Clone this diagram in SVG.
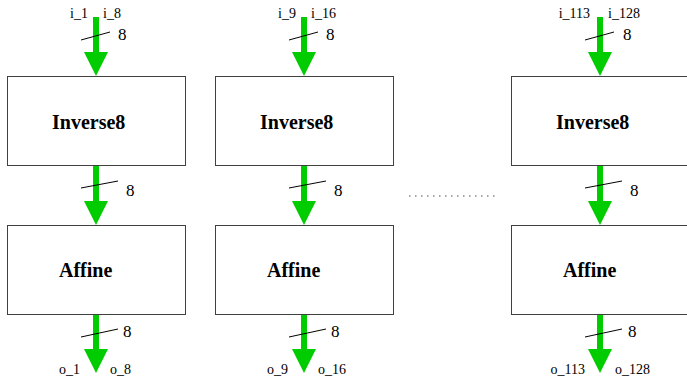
<svg xmlns="http://www.w3.org/2000/svg" width="687" height="382" viewBox="0 0 687 382">
<style>
.box{fill:#fff;stroke:#404040;stroke-width:1}
.title{font-family:"Liberation Serif",serif;font-weight:bold;font-size:20px;fill:#000}
.lbl{font-family:"Liberation Serif",serif;font-size:14px;fill:#000}
.w{font-family:"Liberation Serif",serif;font-size:17px;fill:#000}
.arr{fill:#00cc00;stroke:none}
.sl{stroke:#000;stroke-width:1;fill:none}
.dots{stroke:#888;stroke-width:1.5;stroke-dasharray:1.5 4.5;fill:none}
</style>
<defs>
<path id="a1" class="arr" d="M-3,17 H3 V52 H12 L0,76 L-12,52 H-3 Z"/>
<path id="a2" class="arr" d="M-3,166 H3 V201 H12 L0,225 L-12,201 H-3 Z"/>
<path id="a3" class="arr" d="M-3,315 H3 V349 H12 L0,373 L-12,349 H-3 Z"/>
</defs>
<g id="connectors">
<g transform="translate(96,0)">
<use href="#a1"/><line class="sl" x1="-15" y1="40" x2="14" y2="32"/>
<use href="#a2"/><line class="sl" x1="-15" y1="188" x2="22" y2="181"/>
<use href="#a3"/><line class="sl" x1="-15" y1="337" x2="22" y2="329"/>
</g>
<g transform="translate(304,0)">
<use href="#a1"/><line class="sl" x1="-15" y1="40" x2="14" y2="32"/>
<use href="#a2"/><line class="sl" x1="-15" y1="188" x2="22" y2="181"/>
<use href="#a3"/><line class="sl" x1="-15" y1="337" x2="22" y2="329"/>
</g>
<g transform="translate(600,0)">
<use href="#a1"/><line class="sl" x1="-15" y1="40" x2="14" y2="32"/>
<use href="#a2"/><line class="sl" x1="-15" y1="188" x2="22" y2="181"/>
<use href="#a3"/><line class="sl" x1="-15" y1="337" x2="22" y2="329"/>
</g>
</g>
<g id="labels">
<text class="lbl" x="88" y="18" text-anchor="end">i_1</text>
<text class="lbl" x="103" y="18">i_8</text>
<text class="w" x="118" y="40">8</text>
<text class="w" x="126" y="196">8</text>
<text class="w" x="123" y="337">8</text>
<text class="lbl" x="80" y="374" text-anchor="end">o_1</text>
<text class="lbl" x="110" y="374">o_8</text>

<text class="lbl" x="296" y="18" text-anchor="end">i_9</text>
<text class="lbl" x="311" y="18">i_16</text>
<text class="w" x="326" y="40">8</text>
<text class="w" x="334" y="196">8</text>
<text class="w" x="331" y="337">8</text>
<text class="lbl" x="288" y="374" text-anchor="end">o_9</text>
<text class="lbl" x="318" y="374">o_16</text>

<text class="lbl" x="590" y="18" text-anchor="end">i_113</text>
<text class="lbl" x="608" y="18">i_128</text>
<text class="w" x="623" y="40">8</text>
<text class="w" x="630" y="196">8</text>
<text class="w" x="628" y="337">8</text>
<text class="lbl" x="585" y="374" text-anchor="end">o_113</text>
<text class="lbl" x="615" y="374">o_128</text>
</g>
<g id="inv1"><rect class="box" x="7.5" y="76.5" width="178" height="89"/><text class="title" x="52" y="129">Inverse8</text></g>
<g id="aff1"><rect class="box" x="7.5" y="225.5" width="178" height="89"/><text class="title" x="59" y="277">Affine</text></g>
<g id="inv2"><rect class="box" x="215.5" y="76.5" width="178" height="89"/><text class="title" x="260" y="129">Inverse8</text></g>
<g id="aff2"><rect class="box" x="215.5" y="225.5" width="178" height="89"/><text class="title" x="267" y="277">Affine</text></g>
<g id="inv3"><rect class="box" x="511.5" y="76.5" width="178" height="89"/><text class="title" x="556" y="129">Inverse8</text></g>
<g id="aff3"><rect class="box" x="511.5" y="225.5" width="178" height="89"/><text class="title" x="563" y="277">Affine</text></g>
<line class="dots" x1="409" y1="196" x2="495" y2="196"/>
</svg>
